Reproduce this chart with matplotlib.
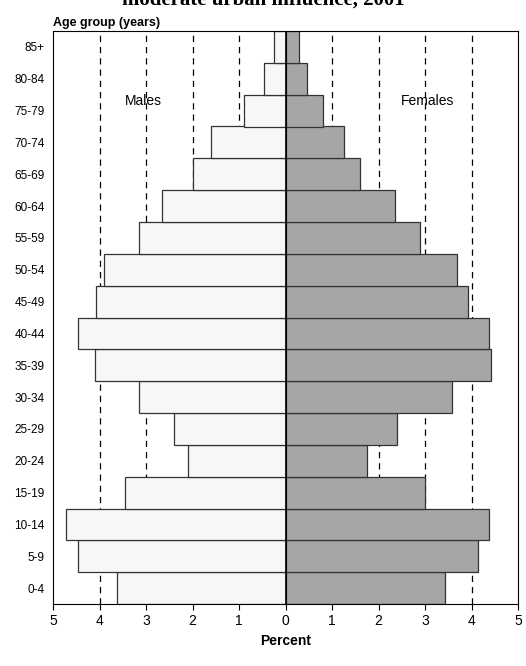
import numpy as np
import matplotlib.pyplot as plt

ages = ["0-4", "5-9", "10-14", "15-19", "20-24", "25-29", "30-34", "35-39", "40-44",
        "45-49", "50-54", "55-59", "60-64", "65-69", "70-74", "75-79", "80-84", "85+"]
males = [3.63, 4.47, 4.73, 3.45, 2.1, 2.4, 3.15, 4.1, 4.47,
         4.08, 3.9, 3.15, 2.65, 2.0, 1.6, 0.9, 0.47, 0.24]
females = [3.42, 4.15, 4.37, 2.99, 1.76, 2.39, 3.57, 4.43, 4.37,
           3.93, 3.68, 2.9, 2.35, 1.6, 1.25, 0.8, 0.47, 0.28]

plt.rcParams['font.family'] = ['Liberation Sans', 'DejaVu Sans']
fig = plt.figure(figsize=(5.26, 6.66), dpi=100)
ax = fig.add_axes([53/526, 62/666, 465/526, 573/666])

y = np.arange(len(ages))
for v in [-4, -3, -2, -1, 1, 2, 3, 4]:
    ax.axvline(v, color='black', ls=(0, (5, 4)), lw=0.9, zorder=0)
ax.barh(y, [-m for m in males], height=1.0, color='#f7f7f7', edgecolor='#333333', lw=0.9, zorder=2)
ax.barh(y, females, height=1.0, color='#a6a6a6', edgecolor='#333333', lw=0.9, zorder=2)
ax.axvline(0, color='black', lw=1.2, zorder=3)

ax.set_xlim(-5, 5)
ax.set_ylim(-0.5, len(ages) - 0.5)
ax.set_yticks(y)
ax.set_yticklabels(ages, fontsize=8.5)
ax.set_xticks(range(-5, 6))
ax.set_xticklabels([str(abs(v)) for v in range(-5, 6)], fontsize=10)
ax.tick_params(axis='y', length=0, pad=6)
ax.tick_params(axis='x', length=4, direction='out')
ax.set_xlabel("Percent", fontsize=10, fontweight='bold')

ax.text(-3.05, 15.3, "Males", fontsize=10, ha='center', va='center')
ax.text(3.05, 15.3, "Females", fontsize=10, ha='center', va='center')
ax.text(0, 1.003, "Age group (years)", transform=ax.transAxes, fontsize=9,
        fontweight='bold', ha='left', va='bottom')
fig.text(0.5, 1.0, "moderate urban influence, 2001", ha='center', va='center',
         fontsize=15, fontweight='bold', family=['Liberation Serif', 'DejaVu Serif'])

fig.savefig("out.png", dpi=100)
